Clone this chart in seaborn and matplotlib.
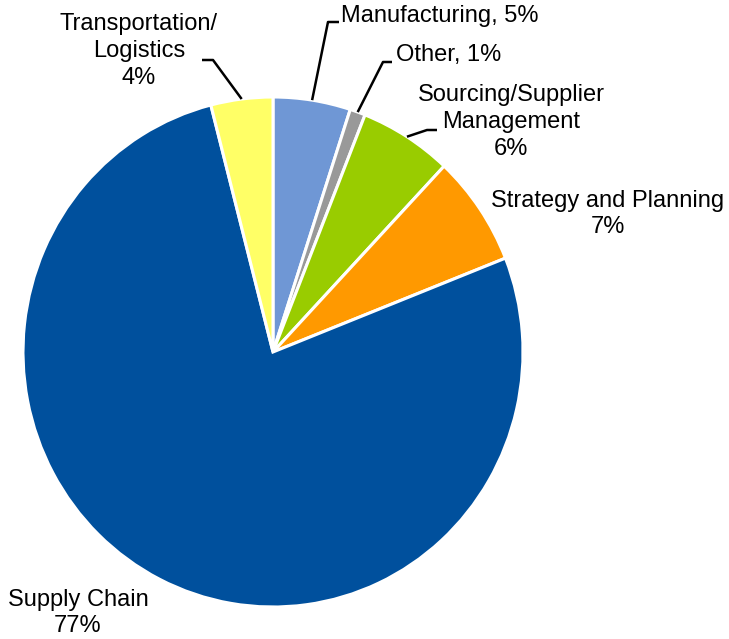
import numpy as np
import matplotlib
matplotlib.use("Agg")
import matplotlib.pyplot as plt
import seaborn as sns

# Share of work by functional area
categories = ["Manufacturing", "Other", "Sourcing/Supplier Management",
              "Strategy and Planning", "Supply Chain", "Transportation/Logistics"]
shares = [5, 1, 6, 7, 77, 4]
colors = ["#6f97d5", "#999999", "#99cc00", "#ff9900", "#00509d", "#ffff66"]

sns.set_theme(style="white")
plt.rcParams["font.family"] = ["Liberation Sans", "DejaVu Sans"]

W, H = 729, 639
# the pie is drawn slightly taller than wide
S = 250 / 255

fig = plt.figure(figsize=(W / 100, H / 100), dpi=100)
ax = fig.add_axes([0, 0, 1, 1])


def ty(py):
    """Convert a pixel row (from the top) to data y."""
    return (H - py) * S


cx, cy, R = 273, ty(352), 250
palette = sns.color_palette(colors)
wedges, _ = ax.pie(shares, colors=palette, startangle=90, counterclock=False,
                   center=(cx, cy), radius=R, frame=True,
                   wedgeprops=dict(edgecolor="white", linewidth=2.2))
ax.set_aspect("auto")
ax.set_xlim(0, W)
ax.set_ylim(0, H * S)
ax.axis("off")

fs = 17
ls = 1.28


def edge_point(w):
    mid = np.deg2rad((w.theta1 + w.theta2) / 2)
    return cx + R * np.cos(mid), cy + R * np.sin(mid)


def leader(w, elbow, end):
    x0, y0 = edge_point(w)
    ax.plot([x0, elbow[0], end[0]], [y0, ty(elbow[1]), ty(end[1])],
            color="black", lw=1.8, solid_capstyle="butt")


# Manufacturing
leader(wedges[0], (328, 22), (339, 22))
ax.text(341, ty(16), f"{categories[0]}, {shares[0]}%", fontsize=fs,
        ha="left", va="center", color="black")
# Other
leader(wedges[1], (383, 62), (392, 62))
ax.text(396, ty(55), f"{categories[1]}, {shares[1]}%", fontsize=fs,
        ha="left", va="center", color="black")
# Sourcing/Supplier Management
leader(wedges[2], (427, 130), (437, 130))
ax.text(511, ty(122), f"Sourcing/Supplier\nManagement\n{shares[2]}%",
        fontsize=fs, ha="center", va="center", linespacing=ls, color="black")
# Strategy and Planning
ax.text(608, ty(214), f"{categories[3]}\n{shares[3]}%", fontsize=fs,
        ha="center", va="center", linespacing=ls, color="black")
# Supply Chain
ax.text(78, ty(613), f"{categories[4]}\n{shares[4]}%", fontsize=fs,
        ha="center", va="center", linespacing=ls, color="black")
# Transportation/Logistics
leader(wedges[5], (213, 60), (202, 60))
ax.text(139, ty(51), f"Transportation/\nLogistics\n{shares[5]}%",
        fontsize=fs, ha="center", va="center", linespacing=ls, color="black")

fig.savefig("out.png", dpi=100, facecolor="white")
